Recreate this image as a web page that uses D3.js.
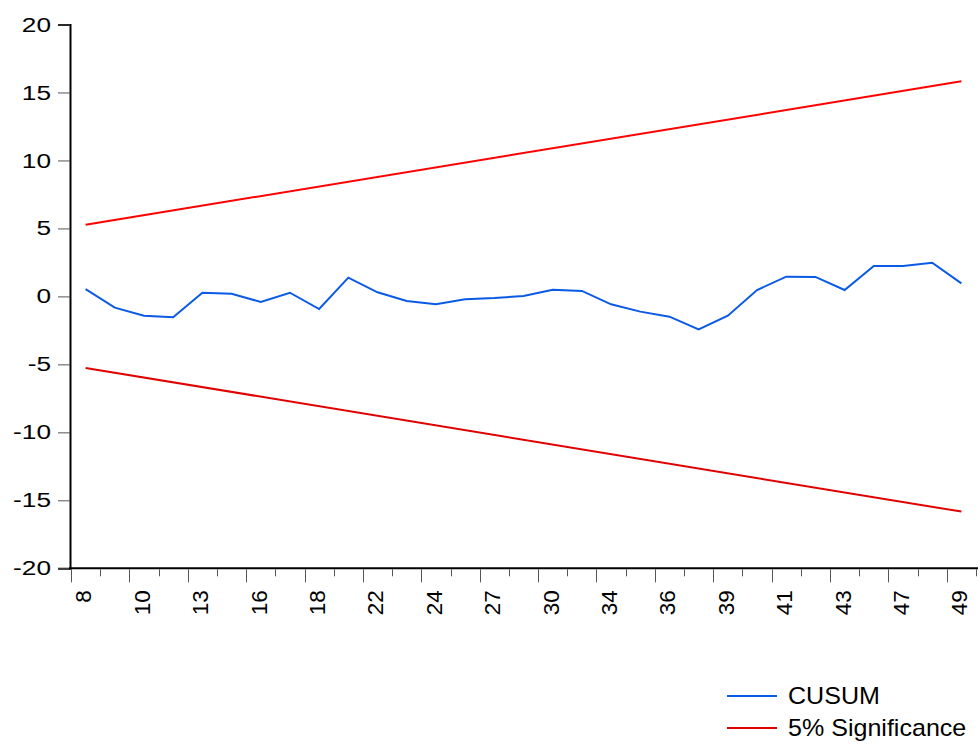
<!DOCTYPE html>
<html lang="en">

<head>
    <meta charset="UTF-8">
    <title>CUSUM test</title>
    <script src="https://d3js.org/d3.v7.min.js"></script>
    <style>
        body,
        html {
            margin: 0px;
            background: white;
        }

        text {
            font-family: "Liberation Sans", Arial, sans-serif;
            fill: #000;
        }
    </style>
</head>

<body>
    <div id="chart"></div>

    <script>
        // observation labels (only every second one is printed on the axis)
        var categories = ["8", "9", "10", "12", "13", "15", "16", "17", "18", "20", "22", "23", "24", "26", "27", "29",
            "30", "32", "34", "35", "36", "38", "39", "40", "41", "42", "43", "45", "47", "48", "49"];

        var cusum = [0.54, -0.83, -1.42, -1.54, 0.27, 0.20, -0.41, 0.27, -0.93, 1.38, 0.30, -0.34, -0.58, -0.21, -0.12,
            0.03, 0.49, 0.40, -0.58, -1.12, -1.49, -2.42, -1.42, 0.47, 1.45, 1.43, 0.47, 2.24, 2.24, 2.48, 0.96];

        // 5% bands, straight lines from first to last observation
        var upperBand = [5.27, 15.82];
        var lowerBand = [-5.26, -15.83];

        var yTicks = [20, 15, 10, 5, 0, -5, -10, -15, -20];

        var width = 980, height = 745;
        var plotLeft = 71, plotRight = 976, plotTop = 24.5, plotBottom = 568.3;

        var svg = d3.select("#chart")
            .append("svg")
            .attr("width", width)
            .attr("height", height);

        var x = d3.scaleBand()
            .domain(d3.range(categories.length))
            .range([plotLeft, plotRight])
            .padding(0);

        var y = d3.scaleLinear()
            .domain([-20, 20])
            .range([plotBottom, plotTop]);

        var cx = function (i) { return x(i) + x.bandwidth() / 2; };

        // y axis (plain hyphen for negatives, labels drawn a bit wide like the original)
        var yAxis = svg.append("g")
            .attr("transform", "translate(" + (plotLeft - 1) + ",0)")
            .call(d3.axisLeft(y).tickValues(yTicks).tickSize(12).tickPadding(7).tickFormat(d => String(d)));
        yAxis.select(".domain").attr("stroke", "#000").attr("stroke-width", 2);
        yAxis.selectAll(".tick line").attr("stroke", "#555").attr("stroke-width", 1);
        yAxis.selectAll(".tick text")
            .attr("x", null)
            .attr("transform", "translate(-19,0) scale(1.28,1)")
            .attr("font-size", 20.5)
            .attr("font-family", "Liberation Sans, Arial, sans-serif")
            .attr("fill", "#000");

        // x axis: ticks on every band boundary, long ones every second boundary
        var boundaries = d3.range(categories.length + 1);
        var xg = svg.append("g");
        xg.append("line")
            .attr("x1", plotLeft - 2)
            .attr("x2", plotRight + 2)
            .attr("y1", y(-20))
            .attr("y2", y(-20))
            .attr("stroke", "#000")
            .attr("stroke-width", 2);
        xg.selectAll("line.tick")
            .data(boundaries)
            .enter().append("line")
            .attr("class", "tick")
            .attr("x1", d => Math.round(plotLeft + d * x.step()) + 0.5)
            .attr("x2", d => Math.round(plotLeft + d * x.step()) + 0.5)
            .attr("y1", y(-20) + 1)
            .attr("y2", d => y(-20) + (d % 2 === 0 ? 14 : 8))
            .attr("stroke", "#555")
            .attr("stroke-width", 1);
        xg.selectAll("text")
            .data(categories.map((c, i) => ({ c: c, i: i })).filter(d => d.i % 2 === 0))
            .enter().append("text")
            .attr("transform", d => "translate(" + (cx(d.i) - 2) + "," + (y(-20) + 22) + ") rotate(-90)")
            .attr("text-anchor", "end")
            .attr("dy", "0.35em")
            .attr("font-size", 22.5)
            .text(d => d.c);

        // lines
        var line = d3.line()
            .x((d, i) => cx(i))
            .y(d => y(d));

        svg.append("path")
            .datum(cusum)
            .attr("d", line)
            .attr("fill", "none")
            .attr("stroke", "#0a5ae6")
            .attr("stroke-width", 2);

        var bandLine = d3.line()
            .x((d, i) => cx(i === 0 ? 0 : categories.length - 1))
            .y(d => y(d));

        svg.append("path")
            .datum(upperBand)
            .attr("d", bandLine)
            .attr("fill", "none")
            .attr("stroke", "#ff0000")
            .attr("stroke-width", 2);

        svg.append("path")
            .datum(lowerBand)
            .attr("d", bandLine)
            .attr("fill", "none")
            .attr("stroke", "#e00000")
            .attr("stroke-width", 2);

        // legend
        var legendItems = [
            { name: "CUSUM", color: "#0a5ae6" },
            { name: "5% Significance", color: "#e00000" }
        ];
        var legend = svg.append("g")
            .attr("transform", "translate(727,696)");
        var li = legend.selectAll("g")
            .data(legendItems)
            .enter().append("g")
            .attr("transform", (d, i) => "translate(0," + (i * 32) + ")");
        li.append("line")
            .attr("x1", 0)
            .attr("x2", 50)
            .attr("stroke", d => d.color)
            .attr("stroke-width", 2);
        li.append("text")
            .attr("transform", "translate(61,0) scale(1.09,1)")
            .attr("dy", "0.35em")
            .attr("font-size", 23)
            .text(d => d.name);
    </script>
</body>

</html>
